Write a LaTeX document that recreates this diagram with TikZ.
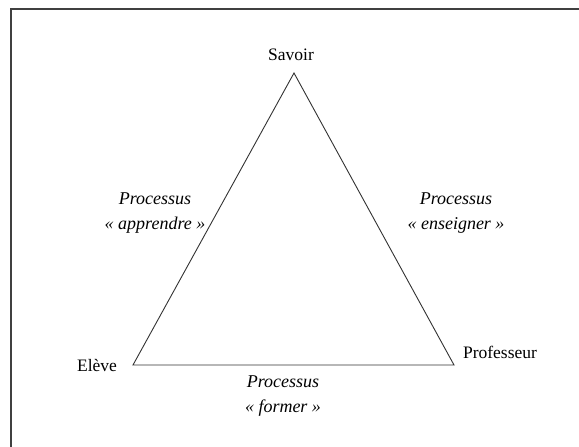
\documentclass[tikz,border=0pt]{standalone}
\usepackage{fontspec}
\setmainfont{Liberation Serif}
\begin{document}
\begin{tikzpicture}[x=1pt,y=1pt,
  lbl/.style={inner sep=0pt, font=\fontsize{17.5}{25}\selectfont},
  proc/.style={inner sep=0pt, align=center, font=\fontsize{18}{25}\selectfont\itshape},
  edge/.style={draw=black!80, line width=0.9pt},
  frame/.style={draw=black!75, line width=2pt}]
\useasboundingbox (0,0) rectangle (579,447);
\fill[white] (0,0) rectangle (579,447);
\coordinate (fb) at (11,0);
\coordinate (fc) at (11,438);
\coordinate (fr) at (579,438);
\draw[frame] (fb) -- (fc) -- (fr);
\coordinate (S) at (294,374);
\coordinate (E) at (133,82);
\coordinate (P) at (454,82);
\draw[edge, line join=miter] (S) -- (E) -- (P) -- cycle;
\node[lbl] (savoir) at (291,392) {Savoir};
\node[lbl] (eleve) at (97,81) {Elève};
\node[lbl] (prof) at (500,95) {Professeur};
\node[proc] (app) at (155,234) {Processus\\«~apprendre~»};
\node[proc] (ens) at (456,234) {Processus\\«~enseigner~»};
\node[proc] (form) at (283,51) {Processus\\«~former~»};
\end{tikzpicture}
\end{document}
